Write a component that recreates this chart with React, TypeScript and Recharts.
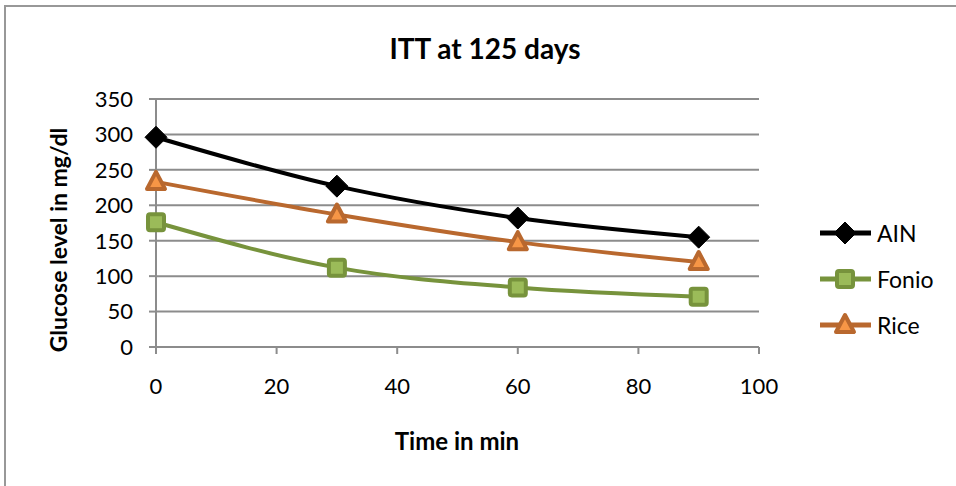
import React from "react";
import { LineChart, Line, XAxis, YAxis, CartesianGrid } from "recharts";

const times = [0, 30, 60, 90];
const ain = [296, 227, 182, 155];
const fonio = [176, 112, 84, 71];
const rice = [233, 187, 148, 120];
const xTicks = [0, 20, 40, 60, 80, 100];
const yTicks = [0, 50, 100, 150, 200, 250, 300, 350];

const data = times.map((t, i) => ({ t, AIN: ain[i], Fonio: fonio[i], Rice: rice[i] }));

const FONT = "Lato, 'Open Sans', sans-serif";

type Shape = "diamond" | "square" | "triangle";

function Marker({ cx, cy, shape, fill, stroke }: { cx: number; cy: number; shape: Shape; fill: string; stroke: string }) {
  if (shape === "diamond") {
    const r = 11;
    return <polygon points={`${cx},${cy - r} ${cx + r},${cy} ${cx},${cy + r} ${cx - r},${cy}`} fill={fill} stroke={stroke} strokeWidth={1} />;
  }
  if (shape === "square") {
    const s = 8;
    return <rect x={cx - s} y={cy - s} width={s * 2} height={s * 2} rx={2} fill={fill} stroke={stroke} strokeWidth={4} />;
  }
  const h = 9;
  return (
    <polygon
      points={`${cx},${cy - h - 1} ${cx + h},${cy + h - 2} ${cx - h},${cy + h - 2}`}
      fill={fill}
      stroke={stroke}
      strokeWidth={4}
      strokeLinejoin="round"
    />
  );
}

const series = [
  { key: "AIN", color: "#000000", shape: "diamond" as Shape, fill: "#000000" },
  { key: "Fonio", color: "#77933C", shape: "square" as Shape, fill: "#9BBB59" },
  { key: "Rice", color: "#B9682E", shape: "triangle" as Shape, fill: "#F79646" },
];

function LegendBox() {
  return (
    <div style={{ position: "absolute", left: 818, top: 210, fontFamily: FONT, fontSize: 23, color: "#000" }}>
      {series.map((s) => (
        <div key={s.key} style={{ display: "flex", alignItems: "center", height: 46 }}>
          <svg width={58} height={30}>
            <line x1={2} y1={15} x2={53} y2={15} stroke={s.color} strokeWidth={5} />
            <Marker cx={27} cy={15} shape={s.shape} fill={s.fill} stroke={s.color} />
          </svg>
          <span style={{ marginLeft: 1 }}>{s.key}</span>
        </div>
      ))}
    </div>
  );
}

export default function App() {
  return (
    <div style={{ position: "absolute", left: 0, top: 0, width: 956, height: 486, overflow: "hidden", background: "#fff" }}>
      <div style={{ position: "absolute", left: 4, top: 5, width: 1100, height: 700, border: "2px solid #989898" }} />
      <div style={{ position: "absolute", left: 0, top: 31, width: 970, textAlign: "center", fontFamily: FONT, fontWeight: 700, fontSize: 28 }}>
        ITT at 125 days
      </div>
      <div
        style={{
          position: "absolute",
          left: 58,
          top: 240,
          transform: "translate(-50%, -50%) rotate(-90deg)",
          whiteSpace: "nowrap",
          fontFamily: FONT,
          fontWeight: 700,
          fontSize: 23,
        }}
      >
        Glucose level in mg/dl
      </div>
      <div
        style={{
          position: "absolute",
          left: 457,
          top: 440,
          transform: "translate(-50%, -50%)",
          whiteSpace: "nowrap",
          fontFamily: FONT,
          fontWeight: 700,
          fontSize: 24,
        }}
      >
        Time in min
      </div>
      <div style={{ position: "absolute", left: 0, top: 0 }}>
        <LineChart width={956} height={486} data={data} margin={{ top: 99, right: 197, left: 0, bottom: 0 }}>
          <CartesianGrid vertical={false} stroke="#8c8c8c" strokeWidth={2} horizontalValues={yTicks} />
          <XAxis
            dataKey="t"
            type="number"
            domain={[0, 100]}
            ticks={xTicks}
            height={139}
            stroke="#8c8c8c"
            strokeWidth={2}
            tickSize={7}
            tickMargin={24}
            tick={{ fill: "#000", fontSize: 22, fontFamily: FONT }}
            interval={0}
          />
          <YAxis
            type="number"
            domain={[0, 350]}
            ticks={yTicks}
            width={156}
            stroke="#8c8c8c"
            strokeWidth={2}
            tickSize={7}
            tickMargin={16}
            tick={{ fill: "#000", fontSize: 22, fontFamily: FONT }}
            interval={0}
          />
          {series.map((s) => (
            <Line
              key={s.key}
              dataKey={s.key}
              type="monotone"
              stroke={s.color}
              strokeWidth={4}
              isAnimationActive={false}
              dot={(p: any) => <Marker key={`${s.key}-${p.index}`} cx={p.cx} cy={p.cy} shape={s.shape} fill={s.fill} stroke={s.color} />}
              activeDot={false}
            />
          ))}
        </LineChart>
      </div>
      <LegendBox />
    </div>
  );
}
